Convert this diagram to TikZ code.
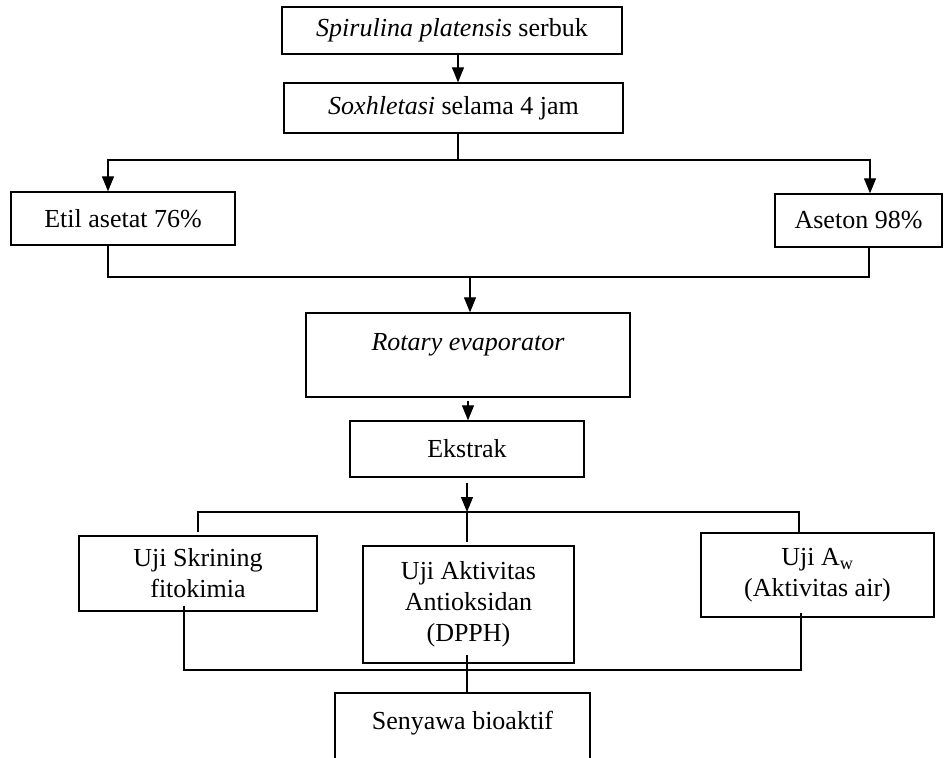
\documentclass[tikz,border=0pt]{standalone}
\usepackage{fontspec}
\setmainfont{Liberation Serif}
\usepackage{xcolor}
\usepackage{tikz}
\usetikzlibrary{arrows.meta}

\tikzset{
  kotak/.style={draw, line width=1.3pt, inner sep=0pt, align=center,
    font=\fontsize{26}{31}\selectfont},
  garis/.style={line width=1.1pt},
  panah/.style={line width=1.1pt, -{Triangle[length=15pt,width=12pt]}}
}

\begin{document}
\begin{tikzpicture}[x=1pt,y=-1pt]
  \path[use as bounding box, clip] (0,0) rectangle (944,757);
  \node[kotak, minimum width=340pt, minimum height=47pt] (spir) at (452,30.5) {\textit{Spirulina platensis} serbuk};
  \node[kotak, minimum width=339pt, minimum height=50pt] (sox) at (453.5,108) {\textit{Soxhletasi} selama 4 jam};
  \node[kotak, minimum width=224pt, minimum height=53pt] (etil) at (123,218.5) {Etil asetat 76\%};
  \node[kotak, minimum width=167pt, minimum height=53pt] (aseton) at (858.5,220.5) {Aseton 98\%};
  \node[kotak, minimum width=324pt, minimum height=84pt, inner ysep=4pt, text height=33pt, text depth=43pt] (rotary) at (468,355) {\textit{Rotary evaporator}};
  \node[kotak, minimum width=234pt, minimum height=56pt] (ekstrak) at (467,449) {Ekstrak};
  \node[kotak, minimum width=238pt, minimum height=75pt] (skrin) at (198,573.5) {Uji Skrining\\fitokimia};
  \node[kotak, minimum width=211pt, minimum height=117pt] (dpph) at (468.5,604.5) {Uji Aktivitas\\Antioksidan\\(DPPH)};
  \node[kotak, minimum width=233pt, minimum height=84pt] (aw) at (817.5,575) {Uji A\textsubscript{w}\\(Aktivitas air)};
  \node[kotak, minimum width=255pt, inner ysep=4pt, text height=32pt, text depth=50pt] (seny) at (462.5,738) {Senyawa bioaktif};

  \draw[panah] ([xshift=6pt]spir.south) -- ([xshift=6pt]spir.south |- sox.north);
  \coordinate (cabang) at (458,160);
  \draw[garis] ([xshift=4.5pt]sox.south) -- (cabang);
  \draw[panah] (cabang) -| ([xshift=-15pt]etil.north);
  \draw[panah] (cabang) -| ([xshift=11.5pt]aseton.north);

  \coordinate (gabung) at (470,277);
  \draw[garis] ([xshift=-15pt]etil.south) |- (gabung) -| ([xshift=10.5pt]aseton.south);
  \draw[panah] (gabung) -- (gabung |- rotary.north);
  \draw[panah] ([yshift=-3pt]rotary.south) -- (rotary.south |- ekstrak.north);

  \coordinate (cabang2) at (467,512);
  \draw[panah] ([yshift=-5pt]ekstrak.south) -- (cabang2);
  \draw[garis] ([yshift=3pt]skrin.north) |- (cabang2) -| ([xshift=-18.5pt]aw.north);
  \draw[garis] (cabang2) -- ([yshift=3pt]dpph.north -| cabang2);

  \coordinate (gabung2) at (467,670);
  \coordinate (turun) at (467,655);
  \draw[garis] ([xshift=-14pt,yshift=6pt]skrin.south) |- (gabung2) -| ([xshift=-16.5pt,yshift=5pt]aw.south);
  \draw[garis] (turun) -- (turun |- seny.north);
\end{tikzpicture}
\end{document}
